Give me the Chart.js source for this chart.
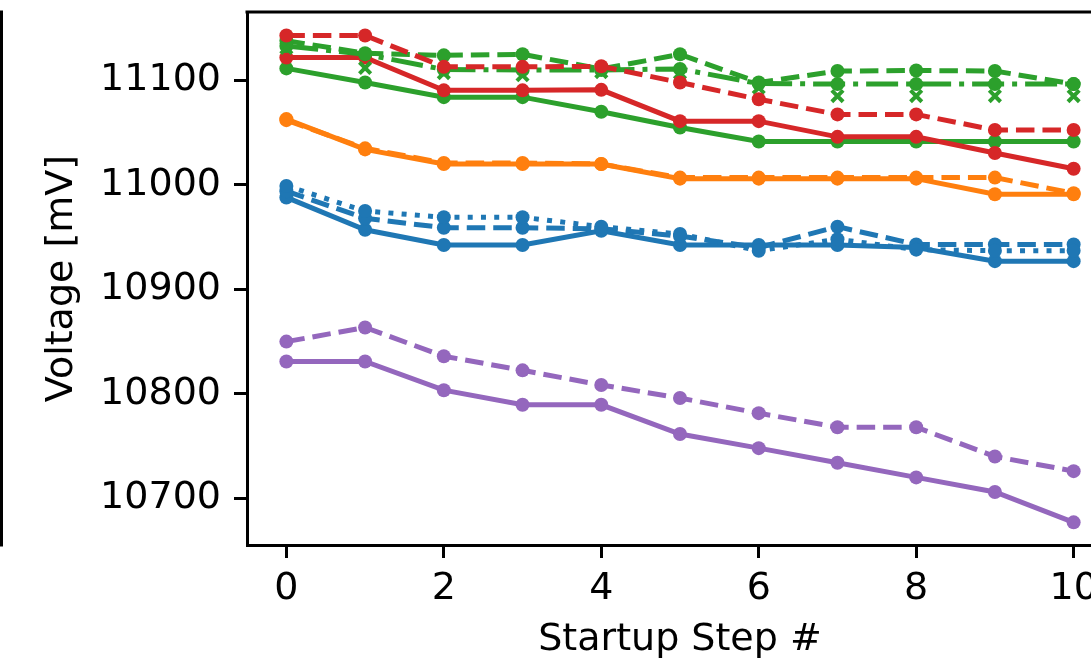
<!DOCTYPE html>
<html><head><meta charset="utf-8">
<script src="https://cdn.jsdelivr.net/npm/chart.js@4.4.1/dist/chart.umd.min.js"></script>
<style>
html,body{margin:0;padding:0;overflow:hidden;background:#fff;width:1091px;height:669px}
#wrap{position:absolute;left:0;top:0;width:1140px;height:669px}
canvas{display:block}
</style></head><body>
<div id="wrap"><canvas id="c" width="1140" height="669"></canvas></div>
<script>
// ---- data ----
const steps = [0,1,2,3,4,5,6,7,8,9,10];
const xTicks = [0,2,4,6,8,10];
const xTickLabels = ['0','2','4','6','8','10'];
const yTicks = [10700,10800,10900,11000,11100];
const yTickLabels = ['10700','10800','10900','11000','11100'];

const blueSolid    = [10988, 10957, 10942.5, 10942.5, 10956, 10942.5, 10942.5, 10942.5, 10940, 10927, 10927];
const blueDashed   = [10994, 10968, 10959, 10959, 10958, 10951, 10940, 10960, 10943, 10943, 10943];
const blueDotted   = [10999, 10975, 10969, 10969, 10960, 10953, 10937, 10948, 10938, 10937, 10937];
const orangeSolid  = [11063, 11034, 11020, 11020, 11020, 11006, 11006, 11006, 11006, 10991, 10991];
const orangeDashed = [11062, 11035, 11021, 11021, 11020, 11007, 11007, 11007, 11007, 11007, 10992];
const greenSolid   = [11111.5, 11098, 11084, 11084, 11070, 11055, 11041.5, 11041.5, 11041.5, 11041.5, 11041.5];
const greenDashed  = [11138, 11126, 11124, 11125, 11111, 11125, 11098, 11109, 11109.5, 11109, 11096.5];
const greenDashDot = [11133, 11125, 11110.5, 11110, 11110, 11111, 11097, 11096.5, 11096.5, 11096.5, 11096.5];
const greenX       = [11131, 11112, 11107, 11105, 11108, 11107, 11093, 11085, 11085, 11085, 11085];
const redSolid     = [11122, 11122, 11090.5, 11090.5, 11091, 11061, 11061, 11046, 11046, 11030.5, 11015.5];
const redDashed    = [11143, 11143, 11113, 11113, 11113.5, 11098, 11082, 11067.5, 11067.5, 11052.5, 11052.5];
const purpleSolid  = [10831, 10831, 10803.5, 10789.5, 10789.5, 10761.5, 10748, 10734, 10720, 10706, 10677];
const purpleDashed = [10850, 10863.5, 10836, 10822.5, 10808.5, 10796, 10781.5, 10768, 10768, 10740, 10726];

// ---- styles ----
const C = {blue:'#1f77b4', orange:'#ff7f0e', green:'#2ca02c', red:'#d62728', purple:'#9467bd'};
const LW = 5;
const DASH = {solid:[], dashed:[3.7*LW,1.6*LW], dotted:[1*LW,1.65*LW], dashdot:[6.4*LW,1.6*LW,1*LW,1.6*LW]};

function series(vals, color, style, marker){
  const isX = marker === 'x';
  return {
    data: steps.map((s,i)=>({x:s, y:vals[i]})),
    borderColor: color, backgroundColor: color,
    borderWidth: LW, borderDash: DASH[style] || [],
    showLine: !isX,
    pointStyle: isX ? 'crossRot' : 'circle',
    pointRadius: isX ? 8 : 7,
    pointBorderWidth: isX ? 4 : 0,
    pointBackgroundColor: color, pointBorderColor: color,
    tension: 0, fill: false
  };
}
const list = [
  series(blueSolid, C.blue, 'solid'),
  series(orangeSolid, C.orange, 'solid'),
  series(greenSolid, C.green, 'solid'),
  series(redSolid, C.red, 'solid'),
  series(purpleSolid, C.purple, 'solid'),
  series(blueDashed, C.blue, 'dashed'),
  series(blueDotted, C.blue, 'dotted'),
  series(orangeDashed, C.orange, 'dashed'),
  series(greenDashed, C.green, 'dashed'),
  series(greenDashDot, C.green, 'dashdot'),
  series(greenX, C.green, 'none', 'x'),
  series(redDashed, C.red, 'dashed'),
  series(purpleDashed, C.purple, 'dashed')
];
list.forEach((d,i)=>{ d.order = list.length - i; });

const FONT = {family:"'DejaVu Sans'", size:38};

const framePlugin = {
  id:'frame',
  afterDraw(chart){
    const {ctx, chartArea:a} = chart;
    ctx.save();
    ctx.strokeStyle = '#000';
    ctx.lineWidth = 3;
    ctx.beginPath();
    ctx.moveTo(a.left-1.5, a.top); ctx.lineTo(a.right+1.5, a.top);
    ctx.moveTo(a.right, a.top); ctx.lineTo(a.right, a.bottom);
    // neighbouring panel's spine at the far left
    ctx.moveTo(1.5, a.top-1.5); ctx.lineTo(1.5, a.bottom+1.5);
    ctx.stroke();
    ctx.restore();
  }
};

new Chart(document.getElementById('c'), {
  type:'line',
  data:{datasets:list},
  options:{
    responsive:false, animation:false, devicePixelRatio:1,
    layout:{padding:{left:0,right:27,top:9,bottom:0}},
    plugins:{legend:{display:false}, tooltip:{enabled:false}},
    scales:{
      x:{
        type:'linear', min:-0.5, max:10.5,
        afterBuildTicks:s=>{ s.ticks = xTicks.map(v=>({value:v})); },
        afterFit:s=>{ s.height = 124; s.paddingLeft = 0; s.paddingRight = 0; },
        grid:{drawOnChartArea:false, drawTicks:true, tickLength:13, tickWidth:3, tickColor:'#000'},
        border:{display:true, color:'#000', width:3},
        ticks:{color:'#000', font:FONT, padding:8, maxRotation:0, autoSkip:false,
               callback:(v,i)=>xTickLabels[i]},
        title:{display:true, text:'Startup Step #', color:'#000', font:FONT, padding:{top:0,bottom:6}}
      },
      y:{
        type:'linear', min:10655.3, max:11165.5,
        afterBuildTicks:s=>{ s.ticks = yTicks.map(v=>({value:v})); },
        afterFit:s=>{ s.width = 247; s.paddingTop = 0; s.paddingBottom = 0; },
        grid:{drawOnChartArea:false, drawTicks:true, tickLength:13, tickWidth:3, tickColor:'#000'},
        border:{display:true, color:'#000', width:3},
        ticks:{color:'#000', font:FONT, padding:13, autoSkip:false,
               callback:(v,i)=>yTickLabels[i]},
        title:{display:true, text:'Voltage [mV]', color:'#000', font:FONT, padding:{top:39,bottom:0}}
      }
    }
  },
  plugins:[framePlugin]
});
</script>
</body></html>
